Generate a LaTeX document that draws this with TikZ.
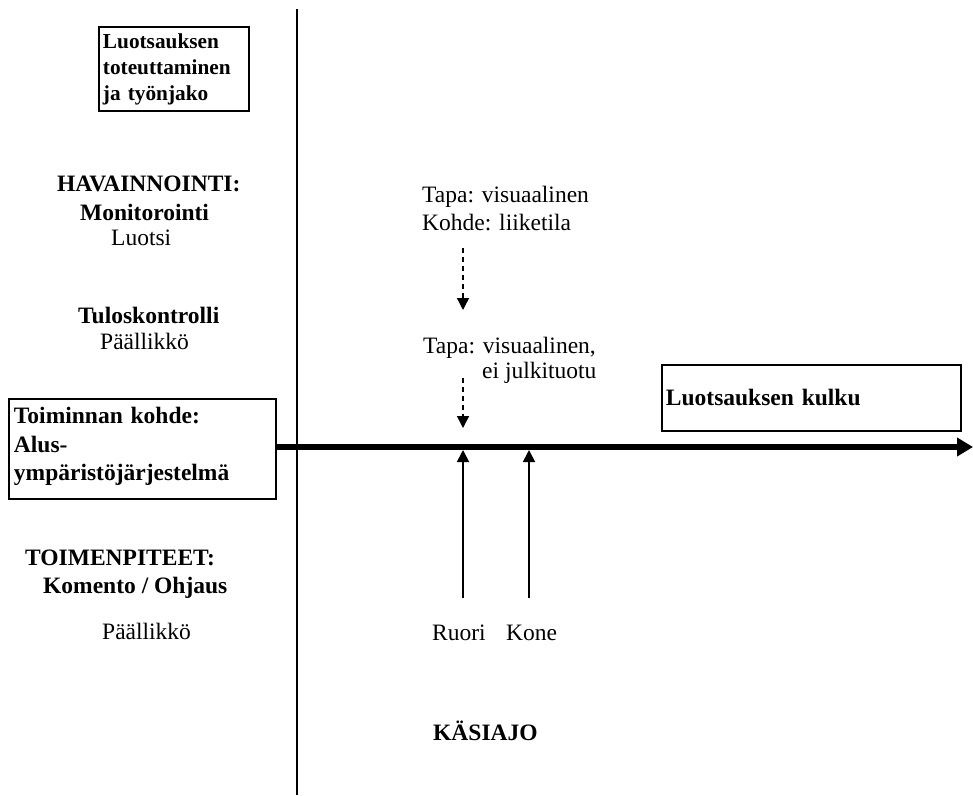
\documentclass[tikz,border=0pt]{standalone}
\usepackage{fontspec}
\setmainfont{Liberation Serif}
\usetikzlibrary{arrows.meta}
\begin{document}
\begin{tikzpicture}[x=1pt,y=-1pt,
  txt/.style={inner sep=0pt, anchor=base west, font=\fontsize{23.5}{28.5}\selectfont},
  btxt/.style={txt, font=\fontsize{23.5}{28.5}\selectfont\bfseries},
  boxnode/.style={draw, line width=1.9pt, inner ysep=0pt, anchor=north west, align=left},
  axisline/.style={line width=2.6pt},
  flow/.style={line width=5.5pt, -{Triangle[length=16pt,width=18pt]}},
  dasharrow/.style={line width=1.4pt, dash pattern=on 5pt off 4pt, -{Triangle[length=12pt,width=12pt]}},
  solidarrow/.style={line width=1.8pt, -{Triangle[length=12pt,width=12pt]}}]
\useasboundingbox (0,0) rectangle (973,795);
\fill[white] (0,0) rectangle (973,795);

% vertical axis
\coordinate (vtop) at (297,9);
\coordinate (vbot) at (297,795);
\draw[axisline] (vtop) -- (vbot);

% boxes
\node[boxnode, text width=142pt, inner xsep=4pt, text height=22pt, text depth=62pt,
      font=\fontsize{21.3}{26}\selectfont\bfseries] (toteutus) at (98,26)
  {Luotsauksen\\toteuttaminen\\ja työnjako};
\node[boxnode, text width=257pt, inner xsep=5pt, text height=25pt, text depth=75pt,
      font=\fontsize{23.5}{28.5}\selectfont\bfseries] (kohde) at (8,398)
  {Toiminnan kohde:\\Alus-\\ympäristöjärjestelmä};
\node[boxnode, text width=291pt, inner xsep=4pt, text height=41pt, text depth=25pt,
      font=\fontsize{23.5}{28.5}\selectfont\bfseries] (kulku) at (661,364)
  {Luotsauksen kulku};

% left texts
\node[btxt] (hav) at (57,191) {HAVAINNOINTI:};
\node[btxt] (mon) at (80,220) {Monitorointi};
\node[txt] (luotsi) at (111,245) {Luotsi};
\node[btxt] (tulos) at (78,323) {Tuloskontrolli};
\node[txt] (paal1) at (100,349) {Päällikkö};
\node[btxt] (toim) at (25,565) {TOIMENPITEET:};
\node[btxt] (kom) at (43,593) {Komento / Ohjaus};
\node[txt] (paal2) at (102,639) {Päällikkö};

% right texts
\node[txt] (tapa1) at (422,202) {Tapa: visuaalinen};
\node[txt] (kohdetxt) at (422,230) {Kohde: liiketila};
\node[txt] (tapa2) at (423,353) {Tapa: visuaalinen,};
\node[txt] (eijulk) at (482,378) {ei julkituotu};
\node[txt] (ruori) at (432,640) {Ruori};
\node[txt] (kone) at (506,640) {Kone};
\node[btxt] (kasiajo) at (433,740) {KÄSIAJO};

% flow arrow
\coordinate (flowend) at (973,447);
\draw[flow] (kohde.east |- flowend) -- (flowend);

% dashed arrows
\coordinate (d1s) at (463,248);
\coordinate (d1e) at (463,310);
\coordinate (d2s) at (463,378);
\coordinate (d2e) at (463,428);
\draw[dasharrow] (d1s) -- (d1e);
\draw[dasharrow] (d2s) -- (d2e);

% solid arrows
\coordinate (r1s) at (463,598);
\coordinate (r1e) at (463,450);
\coordinate (k1s) at (529,598);
\coordinate (k1e) at (529,450);
\draw[solidarrow] (r1s) -- (r1e);
\draw[solidarrow] (k1s) -- (k1e);
\end{tikzpicture}
\end{document}
